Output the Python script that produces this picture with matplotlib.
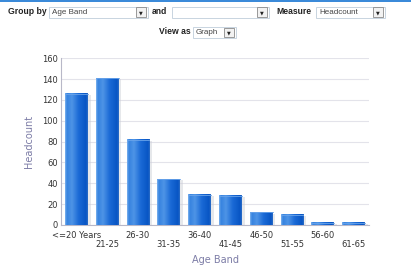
import matplotlib
matplotlib.use("Agg")
import matplotlib.pyplot as plt
from matplotlib.colors import LinearSegmentedColormap
from matplotlib.patches import Rectangle
from matplotlib.transforms import ScaledTranslation
import numpy as np

# chart data
age_bands = ["<=20 Years", "21-25", "26-30", "31-35", "36-40",
             "41-45", "46-50", "51-55", "56-60", "61-65"]
headcount = [126, 141, 82, 44, 29, 28, 12, 10, 2, 2]
y_ticks = [0, 20, 40, 60, 80, 100, 120, 140, 160]

# header controls: (label, box text, label x, box x0, box x1, row y)
controls = [
    ("Group by", "Age Band", 8, 49, 148, 12),
    ("and", "", 152, 172, 269, 12),
    ("Measure", "Headcount", 276, 316, 385, 12),
    ("View as", "Graph", 159, 193, 236, 32),
]

W, H = 411, 266
fig = plt.figure(figsize=(W / 100, H / 100), dpi=100)
fig.patch.set_facecolor("white")

# top blue strip
fig.add_artist(Rectangle((0, 1 - 1.5 / H), 1, 1.5 / H, transform=fig.transFigure,
                         color="#3b8ad9", lw=0))


def fx(px):
    return px / W


def fy(py):
    return 1 - py / H


for label, text, lx, bx0, bx1, yc in controls:
    fig.text(fx(lx), fy(yc), label, fontsize=6.2, fontweight="bold",
             family="Liberation Sans", color="#222222", va="center", ha="left")
    bh = 11
    fig.add_artist(Rectangle((fx(bx0), fy(yc + bh / 2)), fx(bx1 - bx0), bh / H,
                             transform=fig.transFigure, facecolor="white",
                             edgecolor="#c8d4e0", lw=0.7))
    if text:
        fig.text(fx(bx0 + 3), fy(yc), text, fontsize=5.8, color="#444444",
                 family="Liberation Sans", va="center", ha="left")
    # dropdown button
    fig.add_artist(Rectangle((fx(bx1 - 12), fy(yc + 4.5)), fx(10), 9 / H,
                             transform=fig.transFigure, facecolor="#f2f2f2",
                             edgecolor="#8a8a8a", lw=0.6))
    fig.text(fx(bx1 - 7), fy(yc + 0.5), "\u25BC", fontsize=3.5, color="#222222",
             va="center", ha="center")

ax = fig.add_axes([61 / W, 1 - 225 / H, (369 - 61) / W, (225 - 58.3) / H])

cmap = LinearSegmentedColormap.from_list(
    "bar", [(0.0, "#7cb2ee"), (0.08, "#3683e0"), (0.3, "#4e94e6"),
            (0.6, "#1a6ad6"), (0.92, "#0855c4"), (1.0, "#2a6cc6")])
grad = np.linspace(0, 1, 64).reshape(1, -1)

bw = 0.74
for i, v in enumerate(headcount):
    # soft shadow on the right
    ax.bar(i + 0.09, v - 1, width=bw, bottom=0, color="#c9ccd4", alpha=0.45,
           lw=0, zorder=2)
    ax.imshow(grad, cmap=cmap, aspect="auto", interpolation="bilinear",
              extent=[i - bw / 2, i + bw / 2, 0, v], zorder=3)
    ax.plot([i - bw / 2, i + bw / 2], [v, v], color="#6aa4ea", lw=0.6, zorder=4)

ax.set_xlim(-0.5, len(age_bands) - 0.5)
ax.set_ylim(0, 160)

ax.set_yticks(y_ticks)
ax.yaxis.grid(True, color="#e3e3ea", lw=0.8)
ax.set_axisbelow(True)
ax.set_xticks(range(len(age_bands)))
ax.set_xticklabels(age_bands)
ax.tick_params(axis="both", labelsize=6, colors="#333333", length=0, pad=2)
ax.tick_params(axis="x", pad=4.5)
# staggered labels: every second one sits a row lower
shift = ScaledTranslation(0, -6.5 / 72, fig.dpi_scale_trans)
for i, lab in enumerate(ax.get_xticklabels()):
    if i % 2 == 1:
        lab.set_transform(lab.get_transform() + shift)
for s in ["top", "right"]:
    ax.spines[s].set_visible(False)
ax.spines["left"].set_color("#b8b8c8")
ax.spines["bottom"].set_color("#b8b8c8")

ax.set_ylabel("Headcount", fontsize=7, color="#7c7ca6", labelpad=6)
ax.text(0.5, -0.21, "Age Band", transform=ax.transAxes, fontsize=7,
        color="#7c7ca6", ha="center", va="center")

fig.savefig("out.png", dpi=100)
